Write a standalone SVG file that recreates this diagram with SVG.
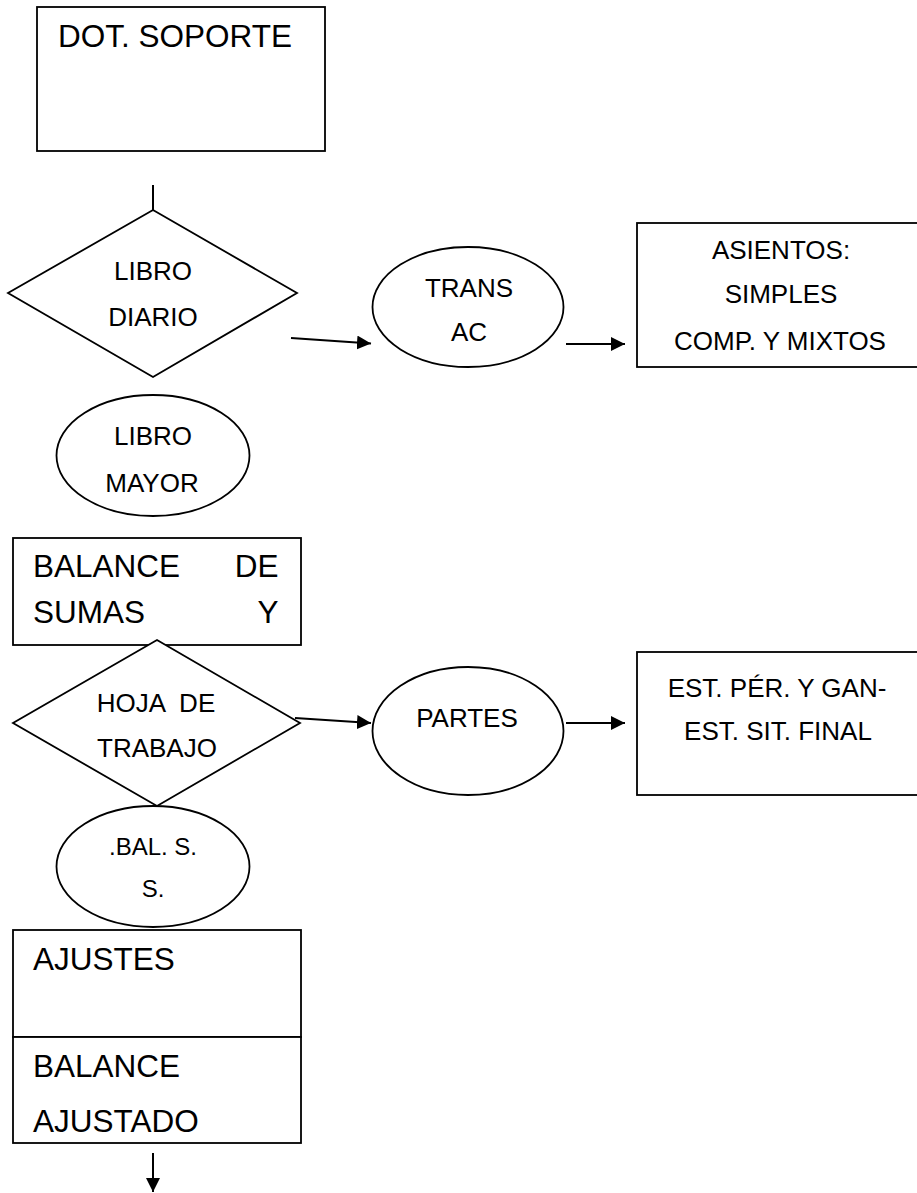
<svg xmlns="http://www.w3.org/2000/svg" width="917" height="1193" viewBox="0 0 917 1193">
<defs>
<style>
.s{fill:#fff;stroke:#000;stroke-width:1.8}
.t{font-family:"Liberation Sans",Arial,sans-serif;fill:#000}
.m{font-size:26px;text-anchor:middle}
.b{font-size:31.5px}
.c{stroke:#000;stroke-width:2;fill:none}
</style>
<marker id="ah" markerUnits="userSpaceOnUse" markerWidth="16" markerHeight="14" refX="14" refY="7" orient="auto">
<path d="M0,0 L14,7 L0,14 Z" fill="#000"/>
</marker>
</defs>
<rect width="917" height="1193" fill="#fff"/>
<g id="n-dot-soporte">
<rect class="s" x="37" y="7" width="288" height="144"/>
<text class="t b" x="58" y="47">DOT. SOPORTE</text>
</g>
<g id="n-libro-diario">
<polygon class="s" points="153,210 297,293 153,377 8,293"/>
<text class="t m" x="153" y="280">LIBRO</text>
<text class="t m" x="153" y="326">DIARIO</text>
</g>
<g id="n-trans">
<ellipse class="s" cx="468" cy="307" rx="95.5" ry="60"/>
<text class="t m" x="469" y="297">TRANS</text>
<text class="t m" x="469" y="341">AC</text>
</g>
<g id="n-asientos">
<rect class="s" x="637" y="223" width="290" height="144"/>
<text class="t m" x="781" y="259">ASIENTOS:</text>
<text class="t m" x="781" y="303">SIMPLES</text>
<text class="t m" x="780" y="350">COMP. Y MIXTOS</text>
</g>
<g id="n-libro-mayor">
<ellipse class="s" cx="153" cy="455.5" rx="96.5" ry="60.5"/>
<text class="t m" x="153" y="445">LIBRO</text>
<text class="t m" x="152" y="492">MAYOR</text>
</g>
<g id="n-balance-sumas">
<rect class="s" x="13" y="538" width="288" height="107"/>
<text class="t b" x="33" y="577">BALANCE</text>
<text class="t b" x="278.5" y="577" text-anchor="end">DE</text>
<text class="t b" x="33" y="623">SUMAS</text>
<text class="t b" x="278.5" y="623" text-anchor="end">Y</text>
</g>
<g id="n-hoja-trabajo">
<polygon class="s" points="157,640 300,723 157,806 13,723"/>
<text class="t m" x="156" y="712" xml:space="preserve">HOJA  DE</text>
<text class="t m" x="157" y="757">TRABAJO</text>
</g>
<g id="n-partes">
<ellipse class="s" cx="468" cy="731" rx="95.5" ry="64"/>
<text class="t m" x="467" y="727">PARTES</text>
</g>
<g id="n-estados">
<rect class="s" x="637" y="652" width="290" height="143"/>
<text class="t m" x="777" y="697">EST. PÉR. Y GAN-</text>
<text class="t m" x="778" y="740">EST. SIT. FINAL</text>
</g>
<g id="n-bal-ss">
<ellipse class="s" cx="153" cy="866.5" rx="96.5" ry="60.5"/>
<text class="t" x="153" y="855" font-size="24" text-anchor="middle">.BAL. S.</text>
<text class="t" x="153" y="897" font-size="24" text-anchor="middle">S.</text>
</g>
<g id="n-ajustes">
<rect class="s" x="13" y="930" width="288" height="107"/>
<text class="t b" x="33" y="970">AJUSTES</text>
</g>
<g id="n-balance-ajustado">
<rect class="s" x="13" y="1037" width="288" height="106"/>
<text class="t b" x="33" y="1077">BALANCE</text>
<text class="t b" x="33" y="1132">AJUSTADO</text>
</g>
<g id="connectors">
<line class="c" x1="153" y1="185" x2="153" y2="210"/>
<line class="c" x1="291" y1="338" x2="371" y2="343.5" marker-end="url(#ah)"/>
<line class="c" x1="566" y1="344" x2="625" y2="344" marker-end="url(#ah)"/>
<line class="c" x1="295" y1="718" x2="371" y2="723" marker-end="url(#ah)"/>
<line class="c" x1="566" y1="723" x2="625" y2="723" marker-end="url(#ah)"/>
<line class="c" x1="153" y1="1153" x2="153" y2="1192" marker-end="url(#ah)"/>
</g>
</svg>
